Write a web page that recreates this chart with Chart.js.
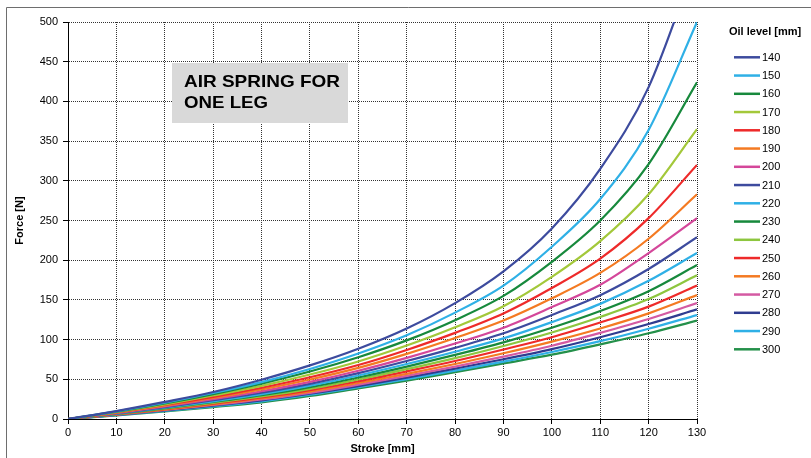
<!DOCTYPE html>
<html>
<head>
<meta charset="utf-8">
<script src="https://cdn.jsdelivr.net/npm/chart.js@4.4.0/dist/chart.umd.min.js"></script>
<style>
html,body{margin:0;padding:0;background:#fff;overflow:hidden;}
#wrap{position:relative;width:811px;height:458px;}
</style>
</head>
<body>
<div id="wrap"><canvas id="airChart"></canvas></div>
<script>
// STROKE [mm] and FORCE [N] per oil level
const stroke = [0,10,20,30,40,50,60,70,80,90,100,110,120,130];
const oilLevels = ['140','150','160','170','180','190','200','210','220','230','240','250','260','270','280','290','300'];

const force140 = [0,10,21.5,34,49.5,67.5,88.5,114,146,186,240,315,418,580];
const force150 = [0,9.7,20.5,32.7,46.5,63,82.5,105.5,134,168,217,277,364,500];
const force160 = [0,9.2,19.6,31.4,44.6,59.8,77.8,99,124.5,155,198,250,321,424];
const force170 = [0,8.7,18.4,29.6,41.7,56,72.5,92.5,115.5,142,179,224,283,365];
const force180 = [0,8.4,17.6,27.9,39.4,52.6,68,87,108.5,133,165,202,253,320];
const force190 = [0,7.9,16.7,26.5,37.3,49.8,64.4,82,102,124,152,184,227,283];
const force200 = [0,7.5,15.8,25,35,46.8,60.8,77,95,115,141,169,209,253];
const force210 = [0,7.1,15,23.6,33.1,44.3,57.7,73,89.6,108,131,156,189,229];
const force220 = [0,6.8,14.2,22.3,31.3,42,54.8,69.2,84.7,101.5,122,145,174,209];
const force230 = [0,6.5,13.6,21.4,29.9,40,52.3,66,80.7,96.5,115,136,161,194];
const force240 = [0,6.2,13,20.3,28.4,38,49.8,62.8,76.7,92,109,128.5,151,181];
const force250 = [0,5.9,12.4,19.4,27.1,36.2,47.5,60,73,87.5,103,121.5,141.5,168];
const force260 = [0,5.7,11.8,18.5,25.8,34.5,45.3,56.8,69.3,82.8,97.5,114,133,156];
const force270 = [0,5.4,11.3,17.6,24.6,33,43.3,54.3,66,78.6,92.3,108.5,126,146];
const force280 = [0,5.2,10.8,16.9,23.4,31.8,41.5,52.2,63.5,75.2,88,103,119.6,138];
const force290 = [0,5,10.3,16,22.3,30.5,40,50.2,61,72.2,84.4,98,113.7,131];
const force300 = [0,4.6,9.6,15,21,29,38.5,48.2,59,70,81,94,108,124];

const lineColors = ['#3d4b9e','#2fb0e6','#17893c','#a3c83a','#ee2a2a','#f47a22','#d4479a',
                    '#3d4b9e','#2fb0e6','#17893c','#8dc63f','#ee2a2a','#f47a22','#d45aa2',
                    '#2f3c90','#2fb0e6','#24904a'];

const forceSeries = [force140,force150,force160,force170,force180,force190,force200,force210,force220,
                     force230,force240,force250,force260,force270,force280,force290,force300];

const FONT = '"Liberation Sans", Arial, sans-serif';

// draw text squeezed/stretched to a given width
function wideText(c, txt, x, y, w){
    const m = c.measureText(txt).width;
    c.save();
    c.translate(x,y);
    c.scale(w/m,1);
    c.fillText(txt,0,0);
    c.restore();
}

// FRAME, TITLE BOX, LEGEND
const decorPlugin = {
    id:'decor',
    beforeDraw(chart){
        const c = chart.ctx;
        c.save();
        c.fillStyle = '#fff';
        c.fillRect(0,0,chart.width,chart.height);
        c.strokeStyle = '#6e6e6e';
        c.lineWidth = 1;
        c.beginPath();
        c.moveTo(6.5,chart.height);
        c.lineTo(6.5,7.5);
        c.lineTo(chart.width,7.5);
        c.stroke();
        c.restore();
    },
    afterDraw(chart){
        const c = chart.ctx;
        c.save();
        // title box
        c.fillStyle = '#d9d9d9';
        c.fillRect(172,63,176,60);
        c.fillStyle = '#000';
        c.font = 'bold 16.5px ' + FONT;
        c.textAlign = 'left';
        c.textBaseline = 'alphabetic';
        wideText(c,'AIR SPRING FOR',184,86.8,156);
        wideText(c,'ONE LEG',184,108.4,84);

        // legend
        c.font = 'bold 11px ' + FONT;
        c.textBaseline = 'middle';
        c.fillText('Oil level [mm]',729,32);
        c.font = '11px ' + FONT;
        chart.data.datasets.forEach((ds,i)=>{
            const y = 57.3 + i*18.25;
            c.strokeStyle = ds.borderColor;
            c.lineWidth = 2.5;
            c.beginPath();
            c.moveTo(734,y);
            c.lineTo(760,y);
            c.stroke();
            c.fillStyle = '#000';
            c.fillText(ds.label,762,y+0.5);
        });
        c.restore();
    }
};

const datasets = oilLevels.map((lvl,i)=>({
    label: lvl,
    data: stroke.map((s,j)=>({x:s, y:forceSeries[i][j]})),
    borderColor: lineColors[i],
    backgroundColor: lineColors[i],
    borderWidth: 2.2,
    pointRadius: 0,
    cubicInterpolationMode: 'monotone',
    fill: false
}));

new Chart(document.getElementById('airChart'),{
    type:'line',
    data:{ datasets },
    plugins:[decorPlugin],
    options:{
        responsive:true,
        maintainAspectRatio:false,
        animation:false,
        layout:{ padding:{ top:22, right:114, bottom:0, left:0 } },
        plugins:{ legend:{display:false}, tooltip:{enabled:false} },
        scales:{
            x:{
                type:'linear', min:0, max:130,
                afterFit(scale){ scale.height = 39; },
                ticks:{ stepSize:10, color:'#000', font:{family:FONT,size:11}, padding:2, maxRotation:0 },
                grid:{ color:'#333', lineWidth:1, tickLength:5, tickColor:'#000' },
                border:{ color:'#000', width:1, dash:[1,1] },
                title:{ display:true, text:'Stroke [mm]', color:'#000', font:{family:FONT,size:11,weight:'bold'}, padding:{top:0,bottom:2} }
            },
            y:{
                min:0, max:500,
                afterFit(scale){ scale.width = 68; },
                ticks:{ stepSize:50, color:'#000', font:{family:FONT,size:11}, padding:5 },
                grid:{ color:'#333', lineWidth:1, tickLength:5, tickColor:'#000' },
                border:{ color:'#000', width:1, dash:[1,1] },
                title:{ display:true, text:'Force [N]', color:'#000', font:{family:FONT,size:11,weight:'bold'}, padding:{top:13,bottom:0} }
            }
        }
    }
});
</script>
</body>
</html>
